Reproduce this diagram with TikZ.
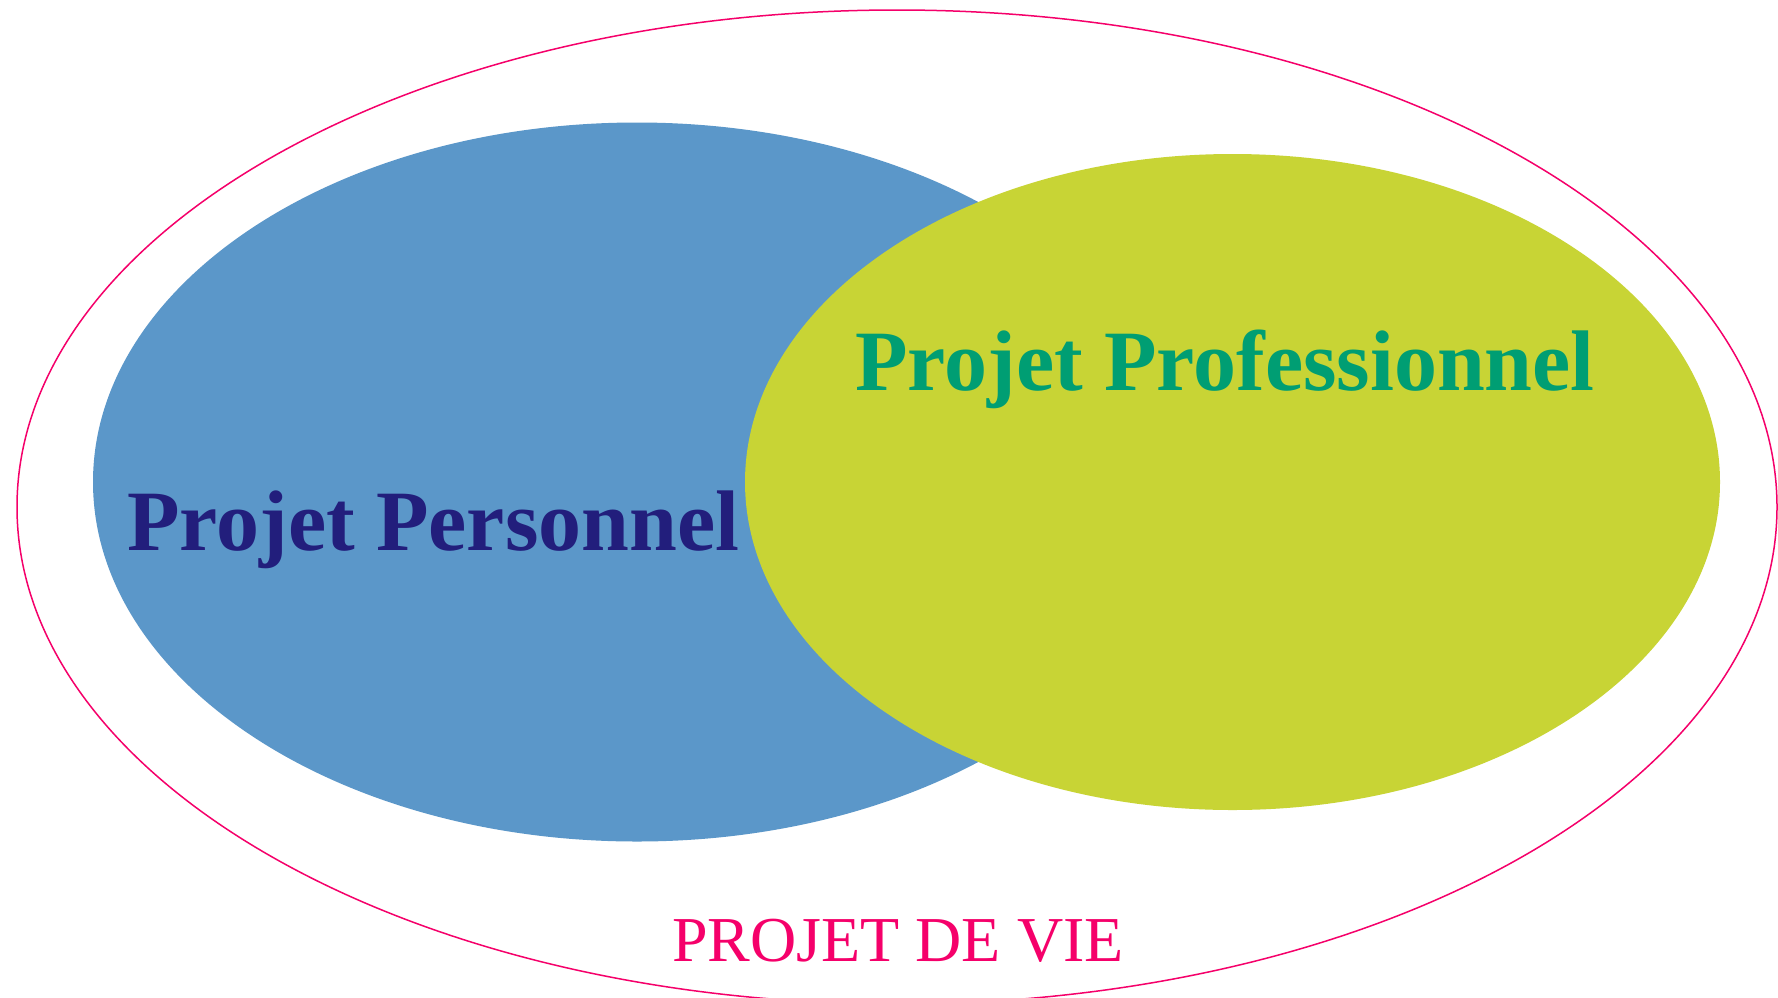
\documentclass[tikz,border=0pt]{standalone}
\usepackage{fontspec}
\setmainfont{Liberation Serif}
\definecolor{persblue}{HTML}{5B97C9}
\definecolor{proflime}{HTML}{C8D435}
\definecolor{navytext}{HTML}{221E7C}
\definecolor{tealtext}{HTML}{009E73}
\definecolor{pinkline}{HTML}{F5006A}
\tikzset{
  bigtitle/.style={font=\fontsize{86}{90}\selectfont\bfseries, inner sep=0pt, anchor=base west},
  vietitle/.style={font=\fontsize{64}{68}\selectfont, inner sep=0pt, anchor=base west, text=pinkline},
}
\begin{document}
\begin{tikzpicture}[x=1pt,y=-1pt]
\useasboundingbox (0,0) rectangle (1778,997);
\clip (0,0) rectangle (1778,997);
\fill[white] (0,0) rectangle (1778,997);
\draw[pinkline, line width=1.5pt] (897,507) ellipse [x radius=880, y radius=497];
\fill[persblue] (637,482) ellipse [x radius=544, y radius=359.5];
\fill[proflime] (1232.5,482) ellipse [x radius=487.5, y radius=328];
\node[bigtitle, text=navytext] (pers) at (127,550) {Projet Personnel};
\node[bigtitle, text=tealtext] (prof) at (855,390) {Projet Professionnel};
\node[vietitle] (vie) at (672,961) {PROJET DE VIE};
\end{tikzpicture}
\end{document}
